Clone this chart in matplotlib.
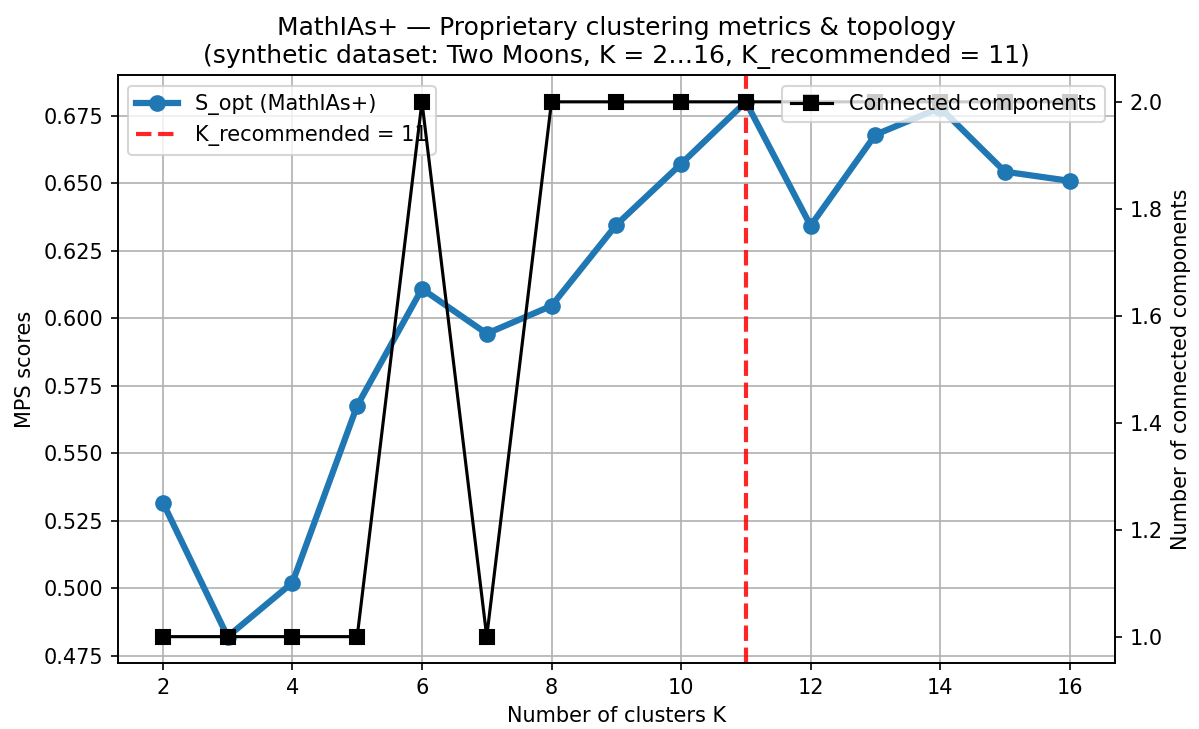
import matplotlib
matplotlib.use("Agg")
import matplotlib.pyplot as plt

ks = list(range(2, 17))
s_opt = [0.5317, 0.4820, 0.5020, 0.5676, 0.6109, 0.5943, 0.6046, 0.6346,
         0.6572, 0.6802, 0.6343, 0.6680, 0.6780, 0.6543, 0.6509]
components = [1, 1, 1, 1, 2, 1, 2, 2, 2, 2, 2, 2, 2, 2, 2]
k_rec = 11

fig, ax = plt.subplots(figsize=(1199 / 150, 729 / 150), dpi=150)

ax.plot(ks, s_opt, "-o", color="#1f77b4", lw=3, ms=7, label="S_opt (MathIAs+)")
ax.axvline(k_rec, color="red", ls="--", lw=2, alpha=0.85, label=f"K_recommended = {k_rec}")
ax.set_xlabel("Number of clusters K")
ax.set_ylabel("MPS scores")
ax.grid(True)
ax.legend(loc="upper left")

ax2 = ax.twinx()
ax2.plot(ks, components, "-s", color="black", lw=1.5, ms=7, label="Connected components")
ax2.set_ylabel("Number of connected components")
ax2.legend(loc="upper right")

ax.set_title("MathIAs+ — Proprietary clustering metrics & topology\n"
             f"(synthetic dataset: Two Moons, K = 2…16, K_recommended = {k_rec})")

fig.subplots_adjust(left=0.098, right=0.93, top=0.897, bottom=0.09)
fig.savefig("out.png")
